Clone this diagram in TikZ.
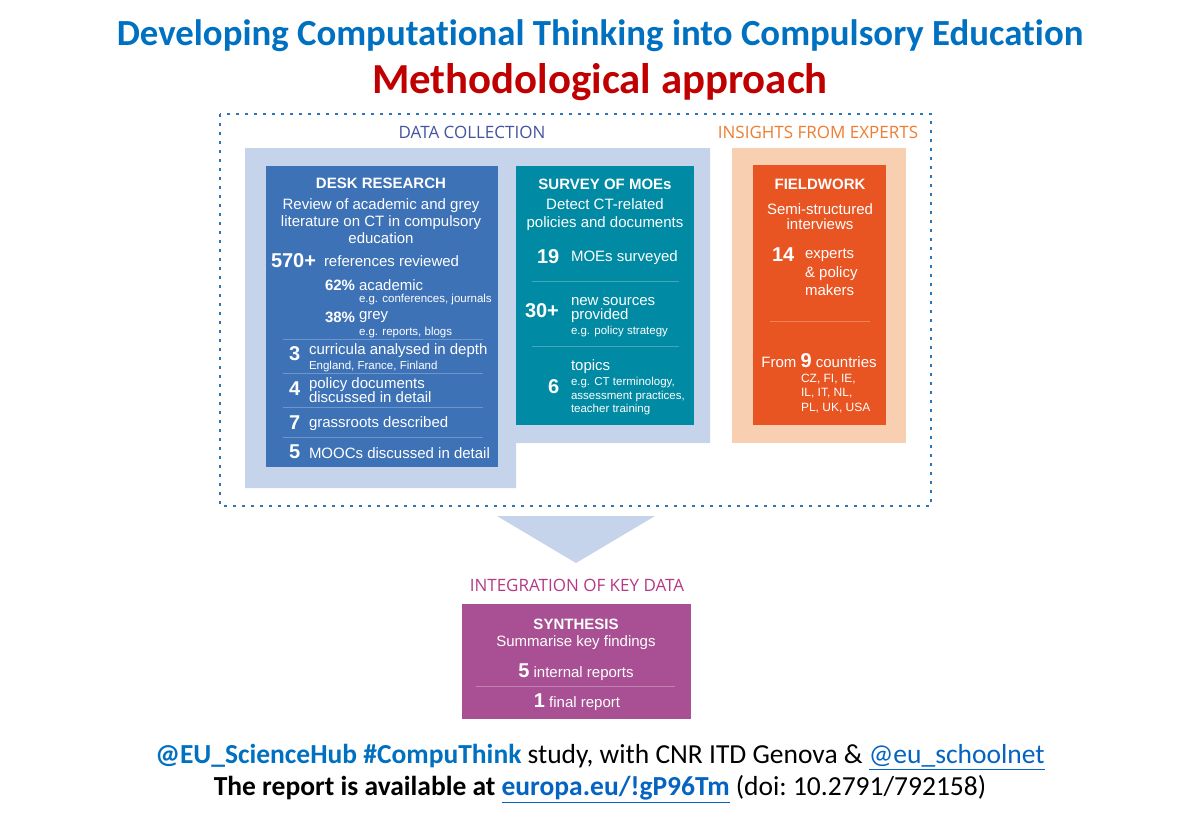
\documentclass[tikz,border=0pt]{standalone}
\usepackage{fontspec}
\setmainfont{Liberation Sans}
\newfontfamily\titlefont[Ligatures=NoCommon]{Carlito}
\newfontfamily\labelfont{Open Sans}
\usepackage{xcolor}
\usepackage{tikz}
\usetikzlibrary{positioning, calc}

\definecolor{titleblue}{RGB}{0,112,192}
\definecolor{titlered}{RGB}{192,0,0}
\definecolor{linkblue}{RGB}{5,99,193}
\definecolor{dotblue}{RGB}{46,117,182}
\definecolor{paleblue}{RGB}{197,211,235}
\definecolor{palepeach}{RGB}{249,207,178}
\definecolor{deskblue}{RGB}{62,114,183}
\definecolor{deskline}{RGB}{110,150,205}
\definecolor{surveyteal}{RGB}{0,138,163}
\definecolor{surveyline}{RGB}{70,165,185}
\definecolor{fieldorange}{RGB}{232,84,34}
\definecolor{fieldline}{RGB}{242,128,82}
\definecolor{synthpurple}{RGB}{168,80,147}
\definecolor{synthline}{RGB}{192,128,178}
\definecolor{collectblue}{RGB}{68,84,160}
\definecolor{expertorange}{RGB}{237,125,49}
\definecolor{integpink}{RGB}{180,58,134}

\begin{document}
\begin{tikzpicture}[x=1pt, y=-1pt,
    every node/.style={inner sep=0pt, outer sep=0pt},
    wtxt/.style={text=white, yshift=-1.5pt, font=\fontsize{15}{17}\selectfont},
    whead/.style={text=white, yshift=-1pt, font=\bfseries\fontsize{15}{17}\selectfont},
    wnum/.style={text=white, yshift=-0.5pt, font=\bfseries\fontsize{20}{22}\selectfont},
    wsmall/.style={text=white, yshift=-1.5pt, font=\fontsize{11.5}{13.5}\selectfont},
    sect/.style={font=\labelfont\fontsize{17}{19}\selectfont},
    foot/.style={font=\titlefont\frenchspacing\fontsize{27.5}{30}\selectfont}
  ]
  \useasboundingbox[fill=white] (0,0) rectangle (1200,823);

  % titles
  \node[font=\titlefont\bfseries\fontsize{36.8}{40}\selectfont, text=titleblue] (title) at (600,36) {Developing Computational Thinking into Compulsory Education};
  \node[font=\titlefont\bfseries\fontsize{42.8}{46}\selectfont, text=titlered] (subtitle) at (600,82) {Methodological approach};

  % dotted frame and section labels
  \draw[dotblue, line width=2pt, dash pattern=on 3pt off 6pt] (220,114) rectangle (931,506);
  \node[sect, text=collectblue] (collect) at (472,132) {DATA COLLECTION};
  \node[sect, text=expertorange] (experts) at (818,132) {INSIGHTS FROM EXPERTS};

  % backgrounds
  \fill[paleblue] (245,148) -- (710,148) -- (710,443) -- (516,443) -- (516,488) -- (245,488) -- cycle;
  \fill[palepeach] (732,148) rectangle (906,443);

  % desk research
  \fill[deskblue] (266,166) rectangle (498,467);
  \node[whead] (desk) at (381,182) {DESK RESEARCH};
  \node[wtxt, align=center] (deskdesc) at (381,220) {Review of academic and grey\\literature on CT in compulsory\\education};
  \node[wnum, anchor=west] (n570) at (271,260) {570+};
  \node[wtxt, anchor=west] (refs) at (324,260) {references reviewed};
  \node[whead, anchor=west] (n62) at (325,284) {62\%};
  \node[wtxt, anchor=west] (acad) at (359,284) {academic};
  \node[wsmall, anchor=west] (acadeg) at (359,298) {e.g. conferences, journals};
  \node[whead, anchor=west] (n38) at (325,316) {38\%};
  \node[wtxt, anchor=west] (grey) at (359,316) {grey};
  \node[wsmall, anchor=west] (greyeg) at (359,331) {e.g. reports, blogs};
  \draw[deskline] (283,339) -- (483,339);
  \node[wnum, anchor=west] (n3) at (289,353) {3};
  \node[wtxt, anchor=west] (curr) at (309,349) {curricula analysed in depth};
  \node[wsmall, anchor=west] (curreg) at (309,365) {England, France, Finland};
  \draw[deskline] (283,373) -- (483,373);
  \node[wnum, anchor=west] (n4) at (289,388) {4};
  \node[wtxt, anchor=west, align=left, font=\fontsize{15}{14}\selectfont] (pol) at (309,389) {policy documents\\discussed in detail};
  \draw[deskline] (283,407) -- (483,407);
  \node[wnum, anchor=west] (n7) at (289,422) {7};
  \node[wtxt, anchor=west] (grass) at (309,422) {grassroots described};
  \draw[deskline] (283,437) -- (483,437);
  \node[wnum, anchor=west] (n5) at (289,451) {5};
  \node[wtxt, anchor=west] (mooc) at (309,452) {MOOCs discussed in detail};

  % survey of MOEs
  \fill[surveyteal] (516,166) rectangle (694,425);
  \node[whead] (survey) at (605,183) {SURVEY OF MOEs};
  \node[wtxt, align=center, font=\fontsize{15}{18}\selectfont] (surveydesc) at (605,213) {Detect CT-related\\policies and documents};
  \node[wnum, anchor=west] (n19) at (537,256) {19};
  \node[wtxt, anchor=west] (moes) at (571,256) {MOEs surveyed};
  \draw[surveyline] (532,281) -- (679,281);
  \node[wnum, anchor=west] (n30) at (525,310) {30+};
  \node[wtxt, anchor=west, align=left, font=\fontsize{15}{14}\selectfont] (newsrc) at (571,309) {new sources\\provided};
  \node[wsmall, anchor=west] (newsrceg) at (571,330) {e.g. policy strategy};
  \draw[surveyline] (532,346) -- (679,346);
  \node[wtxt, anchor=west] (topics) at (571,365) {topics};
  \node[wnum, anchor=west] (n6) at (548,386) {6};
  \node[wsmall, anchor=west, align=left] (topicseg) at (571,395) {e.g. CT terminology,\\assessment practices,\\teacher training};

  % fieldwork
  \fill[fieldorange] (753,165) rectangle (886,425);
  \node[whead] (field) at (820,183) {FIELDWORK};
  \node[wtxt, align=center, font=\fontsize{15}{15}\selectfont] (fielddesc) at (820,215) {Semi-structured\\interviews};
  \node[wnum, anchor=west] (n14) at (772,254) {14};
  \node[wtxt, anchor=west, align=left, font=\fontsize{15}{18.5}\selectfont] (expmk) at (805,271) {experts\\\& policy\\makers};
  \draw[fieldline] (770,321) -- (870,321);
  \node[wtxt] (from) at (819,359) {From {\bfseries\fontsize{20}{22}\selectfont 9} countries};
  \node[wsmall, anchor=west, align=left, font=\fontsize{12}{14.7}\selectfont] (ctry) at (801,392) {CZ, FI, IE,\\IL, IT, NL,\\PL, UK, USA};

  % arrow to integration
  \fill[paleblue] (497,516) -- (655,516) -- (576,563) -- cycle;
  \node[sect, text=integpink] (integ) at (577,585) {INTEGRATION OF KEY DATA};

  % synthesis
  \fill[synthpurple] (462,604) rectangle (691,719);
  \node[whead] (synth) at (576,623) {SYNTHESIS};
  \node[wtxt] (summ) at (576,641) {Summarise key findings};
  \node[wtxt] (intrep) at (576,671) {{\bfseries\fontsize{20}{22}\selectfont 5} internal reports};
  \draw[synthline] (476,686) -- (675,686);
  \node[wtxt] (finrep) at (577,701) {{\bfseries\fontsize{20}{22}\selectfont 1} final report};

  % footer
  \node[foot] (foot1) at (600,757) {{\color{titleblue}\bfseries @EU\_ScienceHub \#CompuThink} study, with CNR ITD Genova \& {\color{linkblue}\underline{@eu\_schoolnet}}};
  \node[foot] (foot2) at (600,789) {{\bfseries The report is available at} {\color{linkblue}\bfseries\underline{europa.eu/!gP96Tm}} (doi: 10.2791/792158)};
\end{tikzpicture}
\end{document}
